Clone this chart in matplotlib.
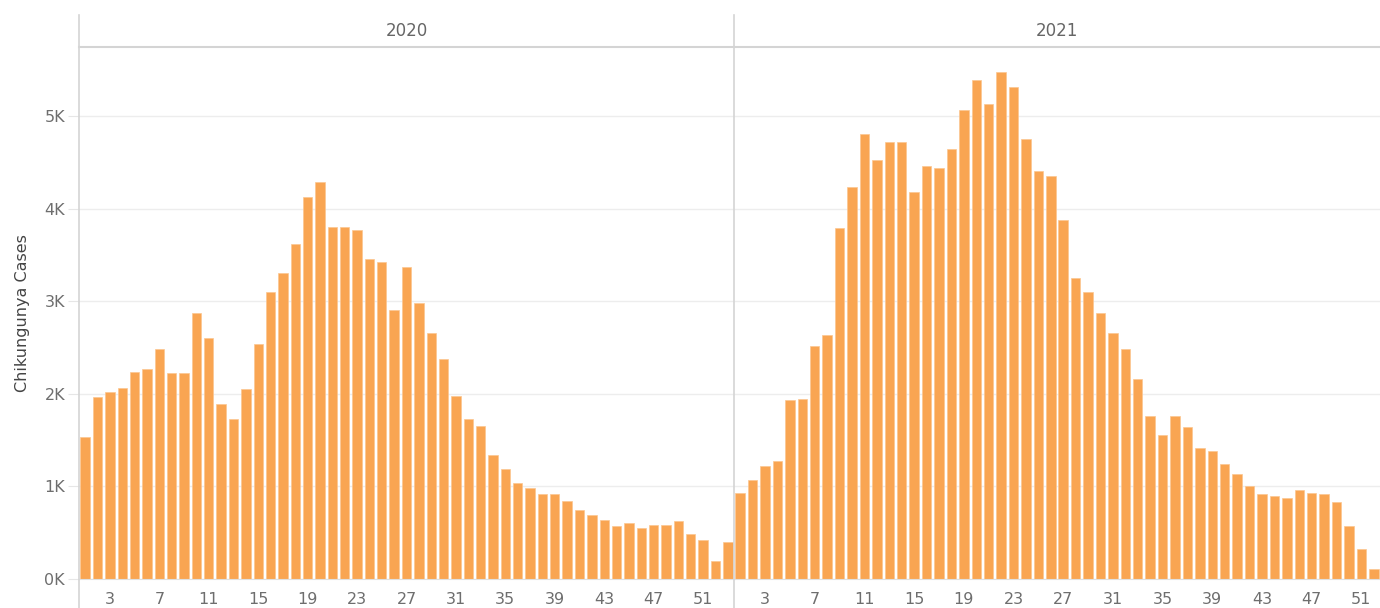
import matplotlib.pyplot as plt
from matplotlib.lines import Line2D
from matplotlib.ticker import FuncFormatter

years = ['2020', '2021']
weeks_2020 = list(range(1, 54))
weeks_2021 = list(range(1, 53))
cases_2020 = [1533, 1962, 2016, 2066, 2239, 2271, 2480, 2221, 2221, 2876,
              2599, 1893, 1725, 2048, 2534, 3099, 3305, 3614, 4128, 4284,
              3805, 3805, 3769, 3459, 3423, 2908, 3373, 2977, 2653, 2376,
              1980, 1725, 1652, 1342, 1188, 1033, 983, 915, 915, 846,
              742, 688, 637, 569, 605, 551, 587, 587, 623, 483,
              418, 191, 396]
cases_2021 = [932, 1069, 1224, 1274, 1930, 1944, 2513, 2635, 3787, 4233,
              4802, 4525, 4716, 4716, 4183, 4457, 4442, 4647, 5061, 5385,
              5130, 5472, 5317, 4748, 4406, 4355, 3874, 3250, 3099, 2876,
              2653, 2480, 2156, 1757, 1552, 1757, 1638, 1411, 1379, 1242,
              1137, 1001, 915, 896, 878, 964, 932, 915, 828, 569,
              327, 105]
week_ticks = list(range(3, 53, 4))
y_ticks = [0, 1000, 2000, 3000, 4000, 5000]

W, H = 1380, 608
fig = plt.figure(figsize=(W / 100, H / 100), dpi=100)

bar_color = '#F9A552'
tick_color = '#6e6e6e'
line_color = '#d4d4d4'


def fx(px):
    return px / W


def fy(px):
    return 1 - px / H


top, base = 47, 579
panels = [(79, 734, weeks_2020, cases_2020), (734, 1380, weeks_2021, cases_2021)]

axes = []
for i, (x0, x1, wk, vals) in enumerate(panels):
    ax = fig.add_axes([fx(x0), fy(base), fx(x1 - x0), fy(top) - fy(base)])
    ax.bar(wk, vals, width=0.76, color=bar_color, edgecolor='#fcc690', linewidth=0.5, zorder=2)
    ax.set_xlim(0.5, len(wk) + 0.5)
    ax.set_ylim(0, 5745)
    ax.set_yticks(y_ticks)
    ax.yaxis.set_major_formatter(FuncFormatter(lambda v, p: '%dK' % (v / 1000)))
    ax.grid(axis='y', color='#ededed', linewidth=1, zorder=0)
    ax.set_xticks(week_ticks)
    ax.tick_params(axis='x', length=0, pad=9, labelsize=11.5, labelcolor=tick_color)
    ax.tick_params(axis='y', length=8, color='#e6e6e6', pad=2, labelsize=11.5, labelcolor=tick_color)
    for s in ['top', 'right', 'left']:
        ax.spines[s].set_visible(False)
    ax.spines['bottom'].set_color('#e0e0e0')
    if i > 0:
        ax.tick_params(axis='y', left=False, labelleft=False)
    ax.set_facecolor('none')
    fig.text(fx((x0 + x1) / 2), fy(31), years[i], ha='center', va='center',
             fontsize=12, color='#666666')
    axes.append(ax)

axes[0].set_ylabel('Chikungunya Cases', fontsize=11.5, color='#444444', labelpad=10)

# panel separators and header line
for xp in [79, 734]:
    fig.add_artist(Line2D([fx(xp), fx(xp)], [fy(15), fy(608)], color=line_color, linewidth=1.2))
fig.add_artist(Line2D([fx(79), fx(1380)], [fy(top), fy(top)], color=line_color, linewidth=1.5))

fig.savefig('out.png', dpi=100)
